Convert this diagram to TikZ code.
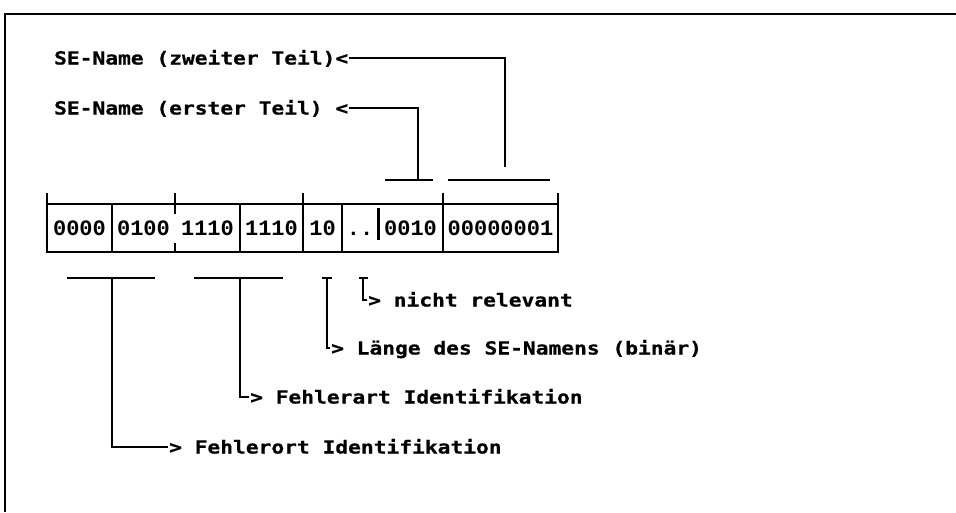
\documentclass[tikz,border=0pt]{standalone}
\usepackage{fontspec}
\usepackage{tikz}
\usetikzlibrary{calc, positioning}
\newfontfamily\lblfont[FakeStretch=1.18,FakeBold=0.8]{DejaVu Sans Mono Bold}
\newfontfamily\cellfont{Liberation Mono Bold}
\tikzstyle{lbl}=[inner sep=0pt, anchor=west, font=\lblfont\fontsize{18}{20}\selectfont, text height=13pt, text depth=0pt]
\tikzstyle{bits}=[inner sep=0pt, font=\cellfont\fontsize{22}{24}\selectfont, text height=14.5pt, text depth=0pt]
\tikzstyle{tick}=[line width=3pt]

\begin{document}
\begin{tikzpicture}[x=1pt, y=-1pt, line width=2.3pt]
\useasboundingbox (0,0) rectangle (956,512);
% Rahmen (Scan: rechts und unten offen)
\draw (956,14) -- (5,14) -- (5,512);

% Feld
\draw (47,204) rectangle (558,252);
\foreach \x in {112,240,303,342,443} \draw (\x,204) -- (\x,252);
\foreach \x in {47,175,303,443,558} \draw (\x,193) -- (\x,204);
\draw (175,204) -- (175,214) (175,243) -- (175,252);
\draw [tick] (378,208) -- (378,240);
\node [bits] (b1) at (79.5,228) {0000}; \node [bits] (b2) at (143.5,228) {0100};
\node [bits] (b3) at (207.5,228) {1110}; \node [bits] (b4) at (271.5,228) {1110};
\node [bits] (b5) at (322.5,228) {10}; \node [bits] (b6) at (360,228) {..};
\node [bits] (b7) at (410.5,228) {0010}; \node [bits] (b8) at (500.5,228) {00000001};

% oben
\node [lbl] (zw) at (53,58) {SE-Name (zweiter Teil)<};
\node [lbl] (er) at (53,108) {SE-Name (erster Teil) <};
\coordinate (zwfoot) at (505,167); \coordinate (erfoot) at (418,180);
\draw (zw.east) -| (zwfoot);
\draw (er.east) -| (erfoot);
\draw (385,180) -- (433,180) (448,180) -- (550,180);

% unten
\node [lbl] (ort) at (168,447) {> Fehlerort Identifikation};
\node [lbl] (art) at (249,397) {> Fehlerart Identifikation};
\node [lbl] (len) at (330,348) {> Länge des SE-Namens (binär)};
\node [lbl] (rel) at (367,300) {> nicht relevant};
\coordinate (orttop) at (112,278); \coordinate (arttop) at (240,278);
\coordinate (lentop) at (327,278); \coordinate (reltop) at (363,278);
\draw (67,278) -- (155,278) (orttop) |- (ort.west);
\draw (194,278) -- (283,278) (arttop) |- (art.west);
\draw (322,278) -- (332,278) (lentop) |- (len.west);
\draw (359,278) -- (368,278) (reltop) |- (rel.west);
%\draw (5,512) -- (956,512);
\end{tikzpicture}
\end{document}
